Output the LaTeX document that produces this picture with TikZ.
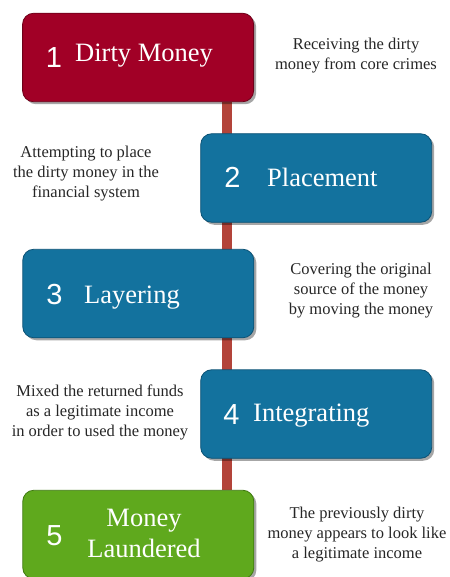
\documentclass[tikz,border=0pt]{standalone}
\usepackage{fontspec}
\setmainfont{Liberation Serif}
\newfontfamily\numfont{Liberation Sans}
\usetikzlibrary{shadows,backgrounds}

\definecolor{stepred}{HTML}{A10026}
\definecolor{stepredline}{HTML}{6E0019}
\definecolor{stepblue}{HTML}{13729E}
\definecolor{stepblueline}{HTML}{0C5275}
\definecolor{stepgreen}{HTML}{5FA91D}
\definecolor{stepgreenline}{HTML}{3F7A10}
\definecolor{barcolor}{HTML}{B3443A}

\tikzset{
  stagebox/.style={rounded corners=11pt, minimum width=231pt, minimum height=88.5pt,
    inner sep=0pt, line width=0.8pt,
    drop shadow={shadow xshift=2.5pt, shadow yshift=-2.5pt, opacity=0.35, fill=black}},
  numtext/.style={anchor=base, inner sep=0pt, text=white, font=\numfont\fontsize{29}{32}\selectfont},
  labeltext/.style={anchor=base west, inner sep=0pt, text=white, font=\fontsize{26.5}{31}\selectfont},
  notetext/.style={align=center, inner sep=0pt, text=black!85, font=\fontsize{16.5}{20}\selectfont},
  timeline/.style={draw=barcolor, line width=10pt}
}

\begin{document}
\begin{tikzpicture}[x=1pt, y=-1pt]
  \useasboundingbox (0,0) rectangle (449,577);
  \clip (0,0) rectangle (449,577);

  % stage boxes
  \node[stagebox, fill=stepred, draw=stepredline]     (b1) at (138.1, 57.5) {};
  \node[stagebox, fill=stepblue, draw=stepblueline]   (b2) at (316.2, 178) {};
  \node[stagebox, fill=stepblue, draw=stepblueline]   (b3) at (138.3, 293.5) {};
  \node[stagebox, fill=stepblue, draw=stepblueline]   (b4) at (316.2, 414) {};
  \node[stagebox, fill=stepgreen, draw=stepgreenline] (b5) at (138.3, 534.5) {};

  % timeline bar behind the boxes
  \coordinate (barx) at (227.3, 0);
  \begin{scope}[on background layer]
    \draw[timeline] (b1.south -| barx) -- (b5.north -| barx);
  \end{scope}

  % step numbers
  \node[numtext] (n1) at (54, 67.5) {1};
  \node[numtext] (n2) at (232.5, 188) {2};
  \node[numtext] (n3) at (54.5, 304) {3};
  \node[numtext] (n4) at (231.5, 424.5) {4};
  \node[numtext] (n5) at (54.5, 545) {5};

  % step titles
  \node[labeltext] (l1) at (75, 62) {Dirty Money};
  \node[labeltext] (l2) at (267, 186.7) {Placement};
  \node[labeltext] (l3) at (84, 303) {Layering};
  \node[labeltext] (l4) at (253, 421.7) {Integrating};
  \node[align=center, inner sep=0pt, text=white, font=\fontsize{26.5}{31}\selectfont]
    (l5) at (144, 533) {Money\\Laundered};

  % descriptions
  \node[notetext] (t1) at (356, 56)  {Receiving the dirty\\money from core crimes};
  \node[notetext] (t2) at (86, 174)  {Attempting to place\\the dirty money in the\\financial system};
  \node[notetext] (t3) at (361, 291) {Covering the original\\source of the money\\by moving the money};
  \node[notetext] (t4) at (100, 412) {Mixed the returned funds\\as a legitimate income\\in order to used the money};
  \node[notetext] (t5) at (357, 535) {The previously dirty\\money appears to look like\\a legitimate income};
\end{tikzpicture}
\end{document}
